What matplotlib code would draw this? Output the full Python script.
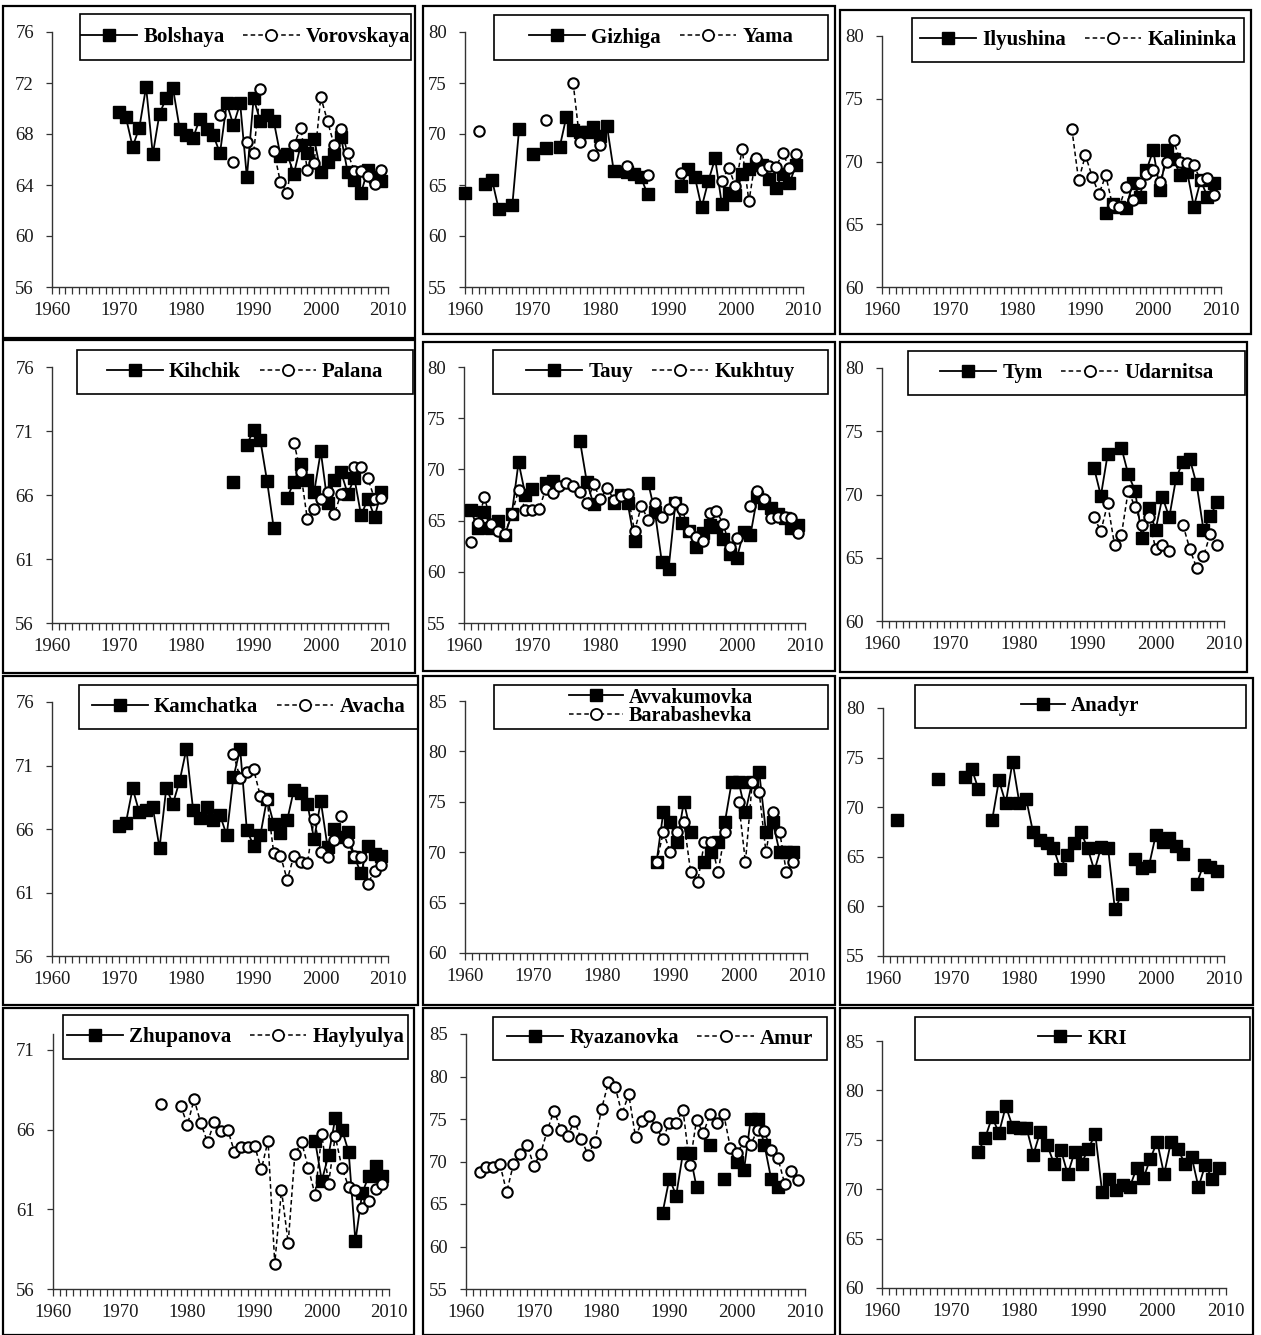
import numpy as np
import matplotlib
matplotlib.use("Agg")
import matplotlib.pyplot as plt
from matplotlib.lines import Line2D
from matplotlib.patches import Rectangle
from matplotlib.ticker import MultipleLocator, FixedLocator

plt.rcParams['font.family'] = ['Liberation Serif', 'DejaVu Serif']

# ---------------- data ----------------
bolshaya_years = [1970, 1971, 1972, 1973, 1974, 1975, 1976, 1977, 1978, 1979,
                  1980, 1981, 1982, 1983, 1984, 1985, 1986, 1987, 1988, 1989,
                  1990, 1991, 1992, 1993, 1994, 1995, 1996, 1997, 1998, 1999,
                  2000, 2001, 2002, 2003, 2004, 2005, 2006, 2007, 2008, 2009]
bolshaya = [69.7, 69.3, 67.0, 68.5, 71.7, 66.4, 69.6, 70.8, 71.6, 68.4,
            67.9, 67.7, 69.2, 68.4, 67.9, 66.5, 70.4, 68.7, 70.4, 64.6,
            70.8, 69.0, 69.5, 69.0, 66.3, 66.4, 64.9, 67.1, 66.5, 67.6,
            65.0, 65.8, 66.4, 67.8, 65.0, 64.4, 63.4, 65.2, 64.6, 64.3]
vorovskaya_years = [1985, 1987, 1989, 1990, 1991, 1993, 1994, 1995, 1996, 1997, 1998,
                    1999, 2000, 2001, 2002, 2003, 2004, 2005, 2006, 2007, 2008, 2009]
vorovskaya = [69.5, 65.8, 67.4, 66.5, 71.5, 66.7, 64.2, 63.4, 67.1, 68.5, 65.2,
              65.7, 70.9, 69.0, 67.1, 68.4, 66.5, 65.1, 65.1, 64.7, 64.1, 65.2]

gizhiga_years = [1960, 1963, 1964, 1965, 1967, 1968, 1970, 1972, 1974,
                 1975, 1976, 1977, 1978, 1979, 1980, 1981, 1982,
                 1984, 1985, 1986, 1987,
                 1992, 1993, 1994, 1995, 1996, 1997, 1998, 1999, 2000,
                 2001, 2002, 2003, 2004, 2005, 2006, 2007, 2008, 2009]
gizhiga = [64.2, 65.1, 65.5, 62.6, 63.0, 70.5, 68.0, 68.6, 68.7,
           71.7, 70.4, 70.2, 70.2, 70.7, 69.8, 70.8, 66.4,
           66.3, 66.1, 65.8, 64.1,
           64.9, 66.6, 65.8, 62.8, 65.4, 67.6, 63.1, 64.2, 64.0,
           66.1, 66.6, 67.1, 67.0, 65.6, 64.7, 66.1, 65.2, 67.0]
yama_years = [1962, 1972, 1976, 1977, 1979, 1980, 1984, 1987, 1992,
              1998, 1999, 2000, 2001, 2002, 2003, 2004, 2005, 2006, 2007, 2008, 2009]
yama = [70.3, 71.4, 75.0, 69.2, 67.9, 68.9, 66.9, 66.0, 66.2,
        65.4, 66.7, 64.9, 68.5, 63.4, 67.6, 66.5, 66.9, 66.8, 68.1, 66.7, 68.0]

ilyushina_years = [1993, 1994, 1995, 1996, 1997, 1998, 1999, 2000, 2001,
                   2002, 2003, 2004, 2005, 2006, 2007, 2008, 2009]
ilyushina = [65.9, 66.6, 66.4, 66.3, 68.3, 67.2, 69.3, 70.9, 67.7,
             70.9, 70.2, 68.9, 69.2, 66.4, 68.5, 67.2, 68.3]
kalininka_years = [1988, 1989, 1990, 1991, 1992, 1993, 1994, 1995, 1996, 1997, 1998,
                   1999, 2000, 2001, 2002, 2003, 2004, 2005, 2006, 2007, 2008, 2009]
kalininka = [72.6, 68.5, 70.5, 68.8, 67.4, 68.9, 66.5, 66.4, 68.0, 66.9, 68.3,
             69.0, 69.3, 68.4, 70.0, 71.7, 70.0, 69.9, 69.7, 68.5, 68.7, 67.3]

kihchik_years = [1987, 1989, 1990, 1991, 1992, 1993,
                 1995, 1996, 1997, 1998, 1999, 2000, 2001, 2002, 2003, 2004,
                 2005, 2006, 2007, 2008, 2009]
kihchik = [67.0, 69.9, 71.1, 70.3, 67.1, 63.4,
           65.8, 67.0, 68.4, 67.2, 66.2, 69.4, 65.4, 67.2, 67.8, 66.1,
           67.3, 64.4, 65.7, 64.3, 66.2]
palana_years = [1996, 1997, 1998, 1999, 2000, 2001, 2002, 2003,
                2005, 2006, 2007, 2008, 2009]
palana = [70.1, 67.8, 64.1, 64.9, 65.7, 66.2, 64.5, 66.1,
          68.2, 68.2, 67.3, 65.7, 65.8]

tauy_years = [1961, 1962, 1963, 1964, 1965, 1966, 1967, 1968, 1969, 1970,
              1972, 1973, 1977, 1978, 1979, 1982, 1983, 1984, 1985,
              1987, 1988, 1989, 1990, 1991, 1992, 1993, 1994, 1995, 1996,
              1997, 1998, 1999, 2000, 2001, 2002, 2003, 2004, 2005, 2006,
              2007, 2008, 2009]
tauy = [66.0, 64.3, 65.8, 64.3, 65.0, 63.6, 65.6, 70.7, 67.5, 68.1,
        68.7, 68.9, 72.8, 68.8, 66.6, 66.7, 67.5, 66.7, 63.0,
        68.7, 65.8, 61.0, 60.3, 66.7, 64.8, 64.0, 62.4, 63.8, 64.6,
        64.4, 63.2, 61.7, 61.3, 63.9, 63.6, 67.3, 66.7, 66.2, 65.6,
        65.3, 64.3, 64.6]
kukhtuy_years = [1961, 1962, 1963, 1964, 1965, 1966, 1967, 1968, 1969, 1970,
                 1971, 1972, 1973, 1974, 1975, 1976, 1977, 1978, 1979, 1980,
                 1981, 1982, 1983, 1984, 1985, 1986, 1987, 1988, 1989, 1990,
                 1991, 1992, 1993, 1994, 1995, 1996, 1997, 1998, 1999, 2000,
                 2002, 2003, 2004, 2005, 2006, 2007, 2008, 2009]
kukhtuy = [62.9, 64.8, 67.3, 64.7, 64.0, 63.7, 65.6, 68.0, 66.0, 66.0,
           66.1, 68.1, 67.7, 68.4, 68.7, 68.4, 67.8, 66.7, 68.6, 67.1,
           68.2, 67.0, 67.4, 67.6, 64.0, 66.4, 65.1, 66.7, 65.4, 66.1,
           66.8, 66.1, 64.0, 63.4, 63.0, 65.7, 65.9, 64.7, 62.4, 63.3,
           66.4, 67.9, 67.1, 65.3, 65.4, 65.4, 65.3, 63.8]

tym_years = [1991, 1992, 1993, 1995, 1996, 1997, 1998, 1999, 2000,
             2001, 2002, 2003, 2004, 2005, 2006, 2007, 2008, 2009]
tym = [72.1, 69.9, 73.2, 73.7, 71.6, 70.3, 66.6, 68.9, 67.2,
       69.8, 68.2, 71.3, 72.6, 72.8, 70.8, 67.2, 68.3, 69.4]
udarnitsa_years = [1991, 1992, 1993, 1994, 1995, 1996, 1997, 1998, 1999,
                   2000, 2001, 2002, 2004, 2005, 2006, 2007, 2008, 2009]
udarnitsa = [68.2, 67.1, 69.3, 66.0, 66.8, 70.3, 69.0, 67.6, 68.2,
             65.7, 66.0, 65.5, 67.6, 65.7, 64.2, 65.1, 66.9, 66.0]

kamchatka_years = [1970, 1971, 1972, 1973, 1974, 1975, 1976, 1977, 1978, 1979,
                   1980, 1981, 1982, 1983, 1984, 1985, 1986, 1987, 1988, 1989,
                   1990, 1991, 1992, 1993, 1994, 1995, 1996, 1997, 1998, 1999,
                   2000, 2001, 2002, 2003, 2004, 2005, 2006, 2007, 2008, 2009]
kamchatka = [66.2, 66.5, 69.2, 67.3, 67.5, 67.7, 64.5, 69.2, 68.0, 69.8,
             72.3, 67.5, 66.9, 67.7, 66.7, 67.1, 65.5, 70.1, 72.3, 65.9,
             64.7, 65.5, 68.4, 66.4, 65.7, 66.7, 69.1, 68.8, 68.0, 65.2,
             68.2, 64.6, 66.0, 65.4, 65.8, 63.8, 62.5, 64.7, 64.0, 63.9]
avacha_years = [1987, 1988, 1989, 1990, 1991, 1992, 1993, 1994, 1995, 1996, 1997,
                1998, 1999, 2000, 2001, 2002, 2003, 2004, 2005, 2006, 2007, 2008, 2009]
avacha = [71.9, 70.0, 70.5, 70.7, 68.6, 68.3, 64.1, 63.9, 62.0, 63.9, 63.4,
          63.3, 66.8, 64.2, 63.8, 65.1, 67.0, 65.0, 63.9, 63.8, 61.7, 62.7, 63.2]

avvakumovka_years = [1988, 1989, 1990, 1991, 1992, 1993,
                     1995, 1996, 1997, 1998, 1999, 2000, 2001, 2002, 2003,
                     2004, 2005, 2006, 2007, 2008]
avvakumovka = [69, 74, 73, 71, 75, 72,
               69, 70, 71, 73, 77, 77, 74, 77, 78,
               72, 73, 70, 70, 70]
barabashevka_years = [1988, 1989, 1990, 1991, 1992, 1993, 1994, 1995, 1996, 1997, 1998,
                      2000, 2001, 2002, 2003, 2004, 2005, 2006, 2007, 2008]
barabashevka = [69, 72, 70, 72, 73, 68, 67, 71, 71, 68, 72,
                75, 69, 77, 76, 70, 74, 72, 68, 69]

anadyr_years = [1962, 1968, 1972, 1973, 1974,
                1976, 1977, 1978, 1979, 1980, 1981, 1982, 1983, 1984, 1985,
                1986, 1987, 1988, 1989, 1990, 1991, 1992, 1993, 1994, 1995,
                1997, 1998, 1999, 2000, 2001, 2002, 2003, 2004,
                2006, 2007, 2008, 2009]
anadyr = [68.7, 72.8, 73.0, 73.9, 71.8,
          68.7, 72.7, 70.4, 74.6, 70.4, 70.8, 67.5, 66.7, 66.4, 65.9,
          63.8, 65.2, 66.4, 67.5, 65.9, 63.6, 66.0, 65.9, 59.7, 61.2,
          64.8, 63.9, 64.1, 67.2, 66.5, 66.9, 66.1, 65.3,
          62.3, 64.2, 64.0, 63.6]

zhupanova_years = [1999, 2000, 2001, 2002, 2003, 2004, 2005, 2006, 2007, 2008, 2009]
zhupanova = [65.3, 62.8, 64.4, 66.7, 66.0, 64.6, 59.0, 62.0, 63.1, 63.7, 63.1]
haylyulya_years = [1976, 1979, 1980, 1981, 1982, 1983, 1984, 1985, 1986, 1987, 1988,
                   1989, 1990, 1991, 1992, 1993, 1994, 1995, 1996, 1997, 1998,
                   1999, 2000, 2001, 2002, 2003, 2004, 2005, 2006, 2007, 2008, 2009]
haylyulya = [67.6, 67.5, 66.3, 67.9, 66.4, 65.2, 66.5, 65.9, 66.0, 64.6, 64.9,
             64.9, 65.0, 63.5, 65.3, 57.6, 62.2, 58.9, 64.5, 65.2, 63.6,
             61.9, 65.7, 62.6, 65.6, 63.6, 62.4, 62.2, 61.1, 61.5, 62.3, 62.6]

ryazanovka_years = [1989, 1990, 1991, 1992, 1993, 1994, 1996, 1998,
                    2000, 2001, 2002, 2003, 2004, 2005, 2006]
ryazanovka = [64, 68, 66, 71, 71, 67, 72, 68, 70, 69, 75, 75, 72, 68, 67]
amur_years = [1962, 1963, 1964, 1965, 1966, 1967, 1968, 1969, 1970, 1971,
              1972, 1973, 1974, 1975, 1976, 1977, 1978, 1979, 1980, 1981,
              1982, 1983, 1984, 1985, 1986, 1987, 1988, 1989, 1990, 1991,
              1992, 1993, 1994, 1995, 1996, 1997, 1998, 1999, 2000, 2001,
              2002, 2003, 2004, 2005, 2006, 2007, 2008, 2009]
amur = [68.8, 69.3, 69.3, 69.7, 66.4, 69.7, 70.9, 72.0, 69.5, 70.9,
        73.7, 76.0, 73.7, 73.0, 74.8, 72.6, 70.8, 72.3, 76.2, 79.3,
        78.8, 75.6, 77.9, 72.9, 74.8, 75.4, 74.1, 72.7, 74.5, 74.5,
        76.1, 69.6, 74.9, 73.3, 75.6, 74.5, 75.6, 71.6, 71.0, 72.4,
        72.0, 73.7, 73.6, 71.3, 70.4, 67.4, 68.9, 67.8]

kri_years = [1974, 1975, 1976, 1977, 1978, 1979, 1980, 1981, 1982, 1983,
             1984, 1985, 1986, 1987, 1988, 1989, 1990, 1991, 1992, 1993,
             1994, 1995, 1996, 1997, 1998, 1999, 2000, 2001, 2002, 2003,
             2004, 2005, 2006, 2007, 2008, 2009]
kri = [73.8, 75.2, 77.3, 75.7, 78.4, 76.3, 76.2, 76.2, 73.5, 75.8,
       74.5, 72.6, 74.0, 71.5, 73.8, 72.6, 74.1, 75.6, 69.7, 71.0,
       69.9, 70.4, 70.2, 72.1, 71.1, 73.1, 74.8, 71.5, 74.8, 74.1,
       72.6, 73.3, 70.2, 72.5, 71.0, 72.1]

# ---------------- layout (pixels of the 1261x1335 canvas) ----------------
W, H = 1261, 1335
fig = plt.figure(figsize=(W / 100, H / 100), dpi=100)
fig.patch.set_facecolor('white')


def fx(x):
    return x / W


def fy(y):
    return 1 - y / H


panels = [
    dict(frame=(3, 6, 415, 338), axes=(52, 32, 388, 287), ylim=(56, 76), ystep=4,
         box=(80, 14, 411, 60),
         s1=("Bolshaya", bolshaya_years, bolshaya), s2=("Vorovskaya", vorovskaya_years, vorovskaya)),
    dict(frame=(423, 6, 835, 334), axes=(465, 32, 803, 287), ylim=(55, 80), ystep=5,
         box=(494, 15, 828, 60),
         s1=("Gizhiga", gizhiga_years, gizhiga), s2=("Yama", yama_years, yama)),
    dict(frame=(840, 10, 1251, 334), axes=(882, 36, 1221, 287), ylim=(60, 80), ystep=5,
         box=(912, 18, 1244, 62),
         s1=("Ilyushina", ilyushina_years, ilyushina), s2=("Kalininka", kalininka_years, kalininka)),
    dict(frame=(3, 340, 415, 673), axes=(52, 367, 388, 623), ylim=(56, 76), ystep=5,
         box=(77, 350, 413, 394),
         s1=("Kihchik", kihchik_years, kihchik), s2=("Palana", palana_years, palana)),
    dict(frame=(423, 342, 835, 671), axes=(464, 367, 805, 623), ylim=(55, 80), ystep=5,
         box=(493, 350, 828, 394),
         s1=("Tauy", tauy_years, tauy), s2=("Kukhtuy", kukhtuy_years, kukhtuy)),
    dict(frame=(840, 342, 1247, 672), axes=(882, 368, 1224, 621), ylim=(60, 80), ystep=5,
         box=(908, 351, 1245, 395),
         s1=("Tym", tym_years, tym), s2=("Udarnitsa", udarnitsa_years, udarnitsa)),
    dict(frame=(3, 676, 418, 1005), axes=(52, 702, 388, 956), ylim=(56, 76), ystep=5,
         box=(79, 685, 418, 729),
         s1=("Kamchatka", kamchatka_years, kamchatka), s2=("Avacha", avacha_years, avacha)),
    dict(frame=(423, 676, 835, 1005), axes=(465, 701, 807, 953), ylim=(60, 85), ystep=5,
         box=(494, 685, 828, 729), ncol=1, fs=14.5,
         s1=("Avvakumovka", avvakumovka_years, avvakumovka),
         s2=("Barabashevka", barabashevka_years, barabashevka)),
    dict(frame=(840, 678, 1253, 1005), axes=(883, 708, 1224, 956), ylim=(55, 80), ystep=5,
         box=(915, 685, 1246, 728),
         s1=("Anadyr", anadyr_years, anadyr), s2=None),
    dict(frame=(3, 1008, 414, 1335), axes=(53, 1034, 389, 1289), ylim=(56, 72), ystep=5,
         box=(63, 1015, 408, 1059),
         s1=("Zhupanova", zhupanova_years, zhupanova), s2=("Haylyulya", haylyulya_years, haylyulya)),
    dict(frame=(423, 1008, 835, 1335), axes=(466, 1034, 805, 1289), ylim=(55, 85), ystep=5,
         box=(493, 1017, 827, 1060),
         s1=("Ryazanovka", ryazanovka_years, ryazanovka), s2=("Amur", amur_years, amur)),
    dict(frame=(840, 1008, 1253, 1335), axes=(882, 1041, 1226, 1288), ylim=(60, 85), ystep=5,
         box=(915, 1017, 1250, 1060),
         s1=("KRI", kri_years, kri), s2=None),
]


def gapped(years, vals):
    xs, ys = [], []
    prev = None
    for yr, v in zip(years, vals):
        if prev is not None and yr - prev > 1:
            xs.append(np.nan)
            ys.append(np.nan)
        xs.append(yr)
        ys.append(v)
        prev = yr
    return np.array(xs, float), np.array(ys, float)


sq_style = dict(color='black', lw=1.3, ls='-', marker='s', ms=8.5,
                mfc='black', mec='black', mew=1.0)
ci_style = dict(color='black', lw=1.1, ls=(0, (3, 2)), marker='o', ms=7.5,
                mfc='white', mec='black', mew=1.5)

for p in panels:
    # panel frame
    l, t, r, b = p['frame']
    fig.add_artist(Rectangle((fx(l), fy(b)), fx(r) - fx(l), fy(t) - fy(b),
                             transform=fig.transFigure, fill=False,
                             ec='black', lw=1.6))
    # axes
    l, t, r, b = p['axes']
    ax = fig.add_axes([fx(l), fy(b), fx(r) - fx(l), fy(t) - fy(b)])
    ax.set_facecolor('none')
    x1, y1 = gapped(p['s1'][1], p['s1'][2])
    ax.plot(x1, y1, zorder=3, clip_on=False, **sq_style)
    if p['s2'] is not None:
        x2, y2 = gapped(p['s2'][1], p['s2'][2])
        ax.plot(x2, y2, zorder=4, clip_on=False, **ci_style)
    ax.set_xlim(1960, 2010)
    ax.set_ylim(*p['ylim'])
    y0, ymax = p['ylim']
    yt = list(range(y0, ymax + 1, p['ystep']))
    ax.yaxis.set_major_locator(FixedLocator(yt))
    ax.xaxis.set_major_locator(MultipleLocator(10))
    ax.xaxis.set_minor_locator(MultipleLocator(1))
    for s in ('top', 'right'):
        ax.spines[s].set_visible(False)
    for s in ('left', 'bottom'):
        ax.spines[s].set_color('#333333')
        ax.spines[s].set_linewidth(1.0)
    ax.tick_params(axis='x', which='both', direction='out', length=5, width=0.9,
                   color='#333333', pad=6)
    ax.tick_params(axis='y', which='major', direction='out', length=4, width=0.9,
                   color='#333333', pad=9)
    for lab in ax.get_xticklabels() + ax.get_yticklabels():
        lab.set_fontfamily('Liberation Serif')
        lab.set_fontsize(13.5)
        lab.set_color('#1a1a1a')

    # legend box
    l, t, r, b = p['box']
    fig.add_artist(Rectangle((fx(l), fy(b)), fx(r) - fx(l), fy(t) - fy(b),
                             transform=fig.transFigure, fill=False,
                             ec='black', lw=1.2, zorder=5))
    handles = [Line2D([], [], color='black', lw=1.3, ls='-', marker='s', ms=9,
                      mfc='black', mec='black')]
    labels = [p['s1'][0]]
    if p['s2'] is not None:
        handles.append(Line2D([], [], color='black', lw=1.1, ls=(0, (3, 2)), marker='o',
                              ms=8, mfc='white', mec='black', mew=1.3))
        labels.append(p['s2'][0])
    ncol = p.get('ncol', len(handles))
    hl = 2.7 if p['s2'] is not None else 2.1
    leg_prop = dict(family='Liberation Serif', weight='bold', size=p.get('fs', 15))
    leg = ax.legend(handles, labels, loc='center',
                    bbox_to_anchor=((fx(l) + fx(r)) / 2, (fy(t) + fy(b)) / 2),
                    bbox_transform=fig.transFigure, frameon=False, ncol=ncol,
                    prop=leg_prop, handlelength=hl, handletextpad=0.3,
                    columnspacing=0.9, borderpad=0.0,
                    labelspacing=-0.05 if ncol == 1 else 0.05,
                    borderaxespad=0.0)
    leg.set_zorder(6)

fig.savefig('out.png', dpi=100, facecolor='white')
